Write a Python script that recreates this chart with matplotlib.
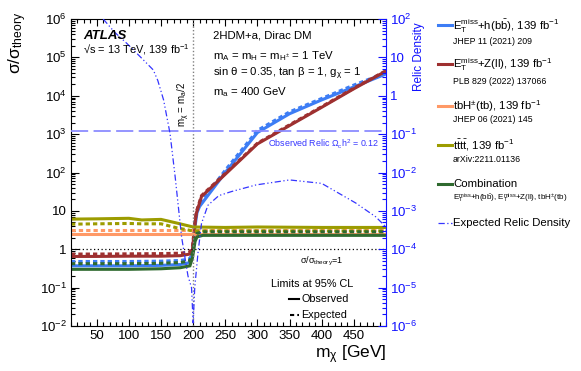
import numpy as np
import matplotlib
matplotlib.use('Agg')
import matplotlib.pyplot as plt
from matplotlib.lines import Line2D
from matplotlib.ticker import FixedLocator, NullFormatter, FuncFormatter, MultipleLocator

plt.rcParams['font.family'] = ['Liberation Sans', 'DejaVu Sans']
plt.rcParams['mathtext.fontset'] = 'custom'
plt.rcParams['mathtext.rm'] = 'Liberation Sans'
plt.rcParams['mathtext.it'] = 'Liberation Sans:italic'
plt.rcParams['mathtext.bf'] = 'Liberation Sans:bold'
plt.rcParams['mathtext.default'] = 'regular'

# ---------------- data ----------------
m_hbb = [10, 50, 100, 150, 180, 195, 199, 203, 206, 210, 250, 300, 350, 400, 450, 500]
obs_hbb = [0.37, 0.37, 0.37, 0.38, 0.40, 0.45, 0.8, 4, 9, 13, 100, 1100, 3400, 7800, 17000, 37000]
exp_hbb = [0.48, 0.48, 0.48, 0.49, 0.51, 0.56, 1.0, 5, 10.5, 15, 115, 1250, 3800, 8500, 19000, 40000]

m_zll = [10, 50, 100, 150, 180, 195, 199, 203, 205, 213, 250, 300, 350, 400, 450, 500]
obs_zll = [0.65, 0.65, 0.66, 0.66, 0.68, 0.75, 1.0, 5, 8.7, 23.6, 90, 556, 1670, 5000, 15200, 44000]
exp_zll = [0.75, 0.75, 0.76, 0.77, 0.79, 0.85, 1.2, 5.5, 9.5, 25, 95, 580, 1750, 5200, 15800, 45000]

m_tbh = [10, 200, 500]
obs_tbh = [2.5, 2.5, 2.5]
exp_tbh = [3.1, 3.1, 3.1]

m_4t = [10, 50, 100, 120, 150, 175, 200, 250, 300, 400, 500]
obs_4t = [6.1, 6.2, 6.4, 5.8, 6.0, 4.8, 3.8, 3.7, 3.8, 3.7, 3.7]
exp_4t = [4.5, 4.6, 4.7, 4.6, 4.6, 3.6, 3.0, 3.0, 3.0, 3.0, 3.0]

m_comb = [10, 100, 150, 180, 195, 199, 203, 206, 215, 300, 400, 500]
obs_comb = [0.30, 0.30, 0.31, 0.33, 0.37, 0.6, 1.6, 2.1, 2.3, 2.3, 2.3, 2.3]
exp_comb = [0.42, 0.42, 0.43, 0.45, 0.50, 0.8, 2.0, 2.6, 2.85, 2.85, 2.85, 2.85]

m_relic = [60, 78, 97, 120, 138, 145, 154, 164, 172, 182, 192, 197.5, 200, 202.5, 207.5,
           213, 223, 240, 260, 298, 350, 400, 453, 484, 500]
relic_exp = [100, 45, 23, 9.5, 4.7, 2.5, 0.78, 0.105, 0.0078, 2.1e-4, 2e-5, 1e-5, 1.2e-6, 1e-5,
             7.9e-5, 4.7e-4, 1.4e-3, 2.5e-3, 3.2e-3, 4.75e-3, 6.4e-3, 5.2e-3, 1.6e-3, 7e-4, 3.8e-4]
relic_obs = 0.12

x_ticks = [50, 100, 150, 200, 250, 300, 350, 400, 450]
left_exps = list(range(-2, 7))
right_exps = list(range(-6, 3))

c_hbb = '#3d7df5'
c_zll = '#9e3030'
c_tbh = '#ff9966'
c_4t = '#9c9c00'
c_comb = '#2f6a2f'
c_relic = '#3535ff'
c_axis2 = '#1010ff'

# ---------------- figure ----------------
W, H = 581, 371
def fx(x): return x / W
def fy(y): return 1 - y / H

fig = plt.figure(figsize=(W / 100, H / 100), dpi=100)
ax = fig.add_axes([fx(71), fy(326), (386 - 71) / W, (326 - 19) / H])
ax.set_xlim(10, 500)
ax.set_yscale('log')
ax.set_ylim(1e-2, 1e6)

ax2 = ax.twinx()
ax2.set_yscale('log')
ax2.set_ylim(1e-6, 1e2)

LW = 2.2
DASH = (0, (1.4, 1.0))
for m, o, e, c in [(m_hbb, obs_hbb, exp_hbb, c_hbb),
                   (m_zll, obs_zll, exp_zll, c_zll),
                   (m_tbh, obs_tbh, exp_tbh, c_tbh),
                   (m_4t, obs_4t, exp_4t, c_4t),
                   (m_comb, obs_comb, exp_comb, c_comb)]:
    ax.plot(m, o, color=c, lw=LW, solid_joinstyle='miter')
    ax.plot(m, e, color=c, lw=LW, ls=DASH)

ax.axhline(1, color='black', ls=(0, (1, 2)), lw=0.9)
ax.axvline(200, color='#808080', ls=(0, (1, 1.5)), lw=1.0)

ax2.axhline(relic_obs, color='#8c8cff', ls=(0, (9.5, 3)), lw=1.3)
ax2.plot(m_relic, relic_exp, color=c_relic, lw=0.9, ls=(0, (5, 2, 1, 2, 1, 2)))

# ticks (only inside the visible range)
def logfmt(v, pos):
    e = int(round(np.log10(v)))
    if e == 0:
        return '1'
    if e == 1:
        return '10'
    return r'$10^{%s}$' % (str(e).replace('-', '\u2212'))

def majors(exps):
    return [10.0 ** e for e in exps]

def minors(exps):
    return [k * 10.0 ** e for e in exps[:-1] for k in range(2, 10)]

ax.yaxis.set_major_locator(FixedLocator(majors(left_exps)))
ax.yaxis.set_minor_locator(FixedLocator(minors(left_exps)))
ax.yaxis.set_major_formatter(FuncFormatter(logfmt))
ax.yaxis.set_minor_formatter(NullFormatter())
ax.xaxis.set_major_locator(FixedLocator(x_ticks))
ax.xaxis.set_minor_locator(FixedLocator(list(range(10, 501, 10))))

ax.tick_params(axis='both', which='both', direction='in', top=True, right=False, labelsize=9.5, pad=3)
ax.tick_params(axis='y', which='major', length=6, width=0.8)
ax.tick_params(axis='y', which='minor', length=3, width=0.8)
ax.tick_params(axis='x', which='major', length=5, width=0.8)
ax.tick_params(axis='x', which='minor', length=3, width=0.8)

ax2.yaxis.set_major_locator(FixedLocator(majors(right_exps)))
ax2.yaxis.set_minor_locator(FixedLocator(minors(right_exps)))
ax2.yaxis.set_major_formatter(FuncFormatter(logfmt))
ax2.yaxis.set_minor_formatter(NullFormatter())
ax2.tick_params(axis='y', which='both', direction='in', colors=c_axis2, labelsize=9.5, pad=3)
ax2.tick_params(axis='y', which='major', length=6, width=0.8)
ax2.tick_params(axis='y', which='minor', length=3, width=0.8)
for s in ['left', 'top', 'bottom']:
    ax2.spines[s].set_visible(False)
ax2.spines['right'].set_color(c_axis2)
ax.spines['right'].set_visible(False)

# axis labels
fig.text(fx(18), fy(12), r'σ/σ$_{theory}$', rotation=90, ha='center', va='top', fontsize=12.5)
fig.text(fx(419), fy(22), 'Relic Density', rotation=90, ha='center', va='top', fontsize=8.5, color=c_axis2)
fig.text(fx(387), fy(355), r'm$_\chi$ [GeV]', ha='right', va='center', fontsize=12.5)

# in-plot texts
fig.text(fx(83), fy(36), 'ATLAS', fontsize=9.5, fontweight='bold', fontstyle='italic', va='center')
fig.text(fx(83), fy(50), r'√s = 13 TeV, 139 fb$^{-1}$', fontsize=7.9, va='center')
fig.text(fx(213), fy(36), '2HDM+a, Dirac DM', fontsize=8.2, va='center')
fig.text(fx(213), fy(56), r'm$_A$ = m$_H$ = m$_{H^{\pm}}$ = 1 TeV', fontsize=8.2, va='center')
fig.text(fx(213), fy(74), r'sin θ = 0.35, tan β = 1, g$_\chi$ = 1', fontsize=8.2, va='center')
fig.text(fx(213), fy(92), r'm$_a$ = 400 GeV', fontsize=8.2, va='center')
fig.text(fx(184), fy(104), r'm$_\chi$ = m$_a$/2', fontsize=7, rotation=90, ha='center', va='center')
fig.text(fx(268), fy(144), r'Observed Relic Ω$_c$h$^2$ = 0.12', fontsize=6.4, color=c_relic, va='center')
fig.text(fx(343), fy(261), r'σ/σ$_{theory}$=1', fontsize=6.5, ha='right', va='center')

fig.text(fx(271), fy(284), 'Limits at 95% CL', fontsize=7.8, va='center')
fig.add_artist(Line2D([fx(289), fx(299)], [fy(299), fy(299)], color='black', lw=1.5, transform=fig.transFigure))
fig.text(fx(301), fy(299), 'Observed', fontsize=7.8, va='center')
fig.add_artist(Line2D([fx(290), fx(299)], [fy(315), fy(315)], color='black', lw=1.5, ls=(0, (2, 1.5)), transform=fig.transFigure))
fig.text(fx(301), fy(315), 'Expected', fontsize=7.8, va='center')

# legend (outside right)
def leg_line(y, c, ls='-', lw=2.2):
    fig.add_artist(Line2D([fx(438), fx(452)], [fy(y), fy(y)], color=c, lw=lw, ls=ls, transform=fig.transFigure))

LF = 8.2
SF = 6.3
leg_line(25, c_hbb)
fig.text(fx(453), fy(26), r'$E_T^{miss}$+h(b$\bar{b}$), 139 fb$^{-1}$', fontsize=LF, va='center')
fig.text(fx(453), fy(42), 'JHEP 11 (2021) 209', fontsize=SF, va='center')
leg_line(64, c_zll)
fig.text(fx(453), fy(65), r'$E_T^{miss}$+Z(ll), 139 fb$^{-1}$', fontsize=LF, va='center')
fig.text(fx(453), fy(81), 'PLB 829 (2022) 137066', fontsize=SF, va='center')
leg_line(106, c_tbh)
fig.text(fx(453), fy(106), r'tbH$^{\pm}$(tb), 139 fb$^{-1}$', fontsize=LF, va='center')
fig.text(fx(453), fy(120), 'JHEP 06 (2021) 145', fontsize=SF, va='center')
leg_line(145, c_4t)
fig.text(fx(453), fy(145), r't$\bar{t}$t$\bar{t}$, 139 fb$^{-1}$', fontsize=LF, va='center')
fig.text(fx(453), fy(160), 'arXiv:2211.01136', fontsize=SF, va='center')
leg_line(184, c_comb)
fig.text(fx(453), fy(184), 'Combination', fontsize=LF, va='center')
fig.text(fx(453), fy(198), r'$E_T^{miss}$+h(b$\bar{b}$), $E_T^{miss}$+Z(ll), tbH$^{\pm}$(tb)', fontsize=5.8, va='center')
leg_line(223, c_relic, ls=(0, (5, 2, 1, 2)), lw=0.9)
fig.text(fx(453), fy(223), 'Expected Relic Density', fontsize=LF, va='center')

fig.savefig('out.png', dpi=100)
